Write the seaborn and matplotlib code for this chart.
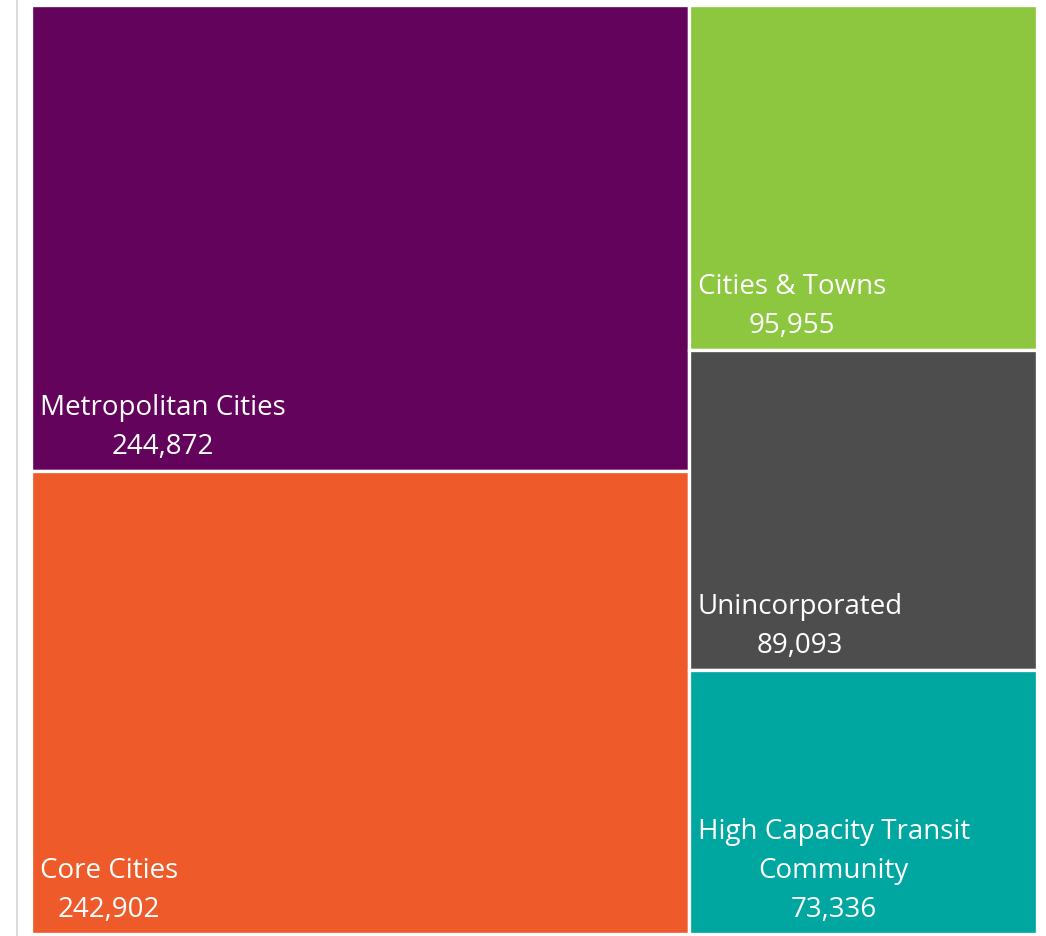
import matplotlib.pyplot as plt
import matplotlib.patches as mpatches
import matplotlib.lines as mlines
import seaborn as sns

# Data
categories = ['Metropolitan Cities', 'Core Cities', 'Cities & Towns',
              'Unincorporated', 'High Capacity Transit\nCommunity']
values = [244872, 242902, 95955, 89093, 73336]
colors = ['#63035c', '#ef5a2a', '#8dc63f', '#4d4d4d', '#00a6a0']


def worst(row, w):
    s = sum(row)
    return max(max(w * w * r / (s * s), s * s / (w * w * r)) for r in row)


def layout_row(row, x, y, dx, dy):
    # lays a row along the shorter side, returns rects and remaining space
    s = sum(row)
    rects = []
    if dx >= dy:
        width = s / dy
        yy = y
        for r in row:
            h = r / width
            rects.append((x, yy, width, h))
            yy += h
        return rects, (x + width, y, dx - width, dy)
    height = s / dx
    xx = x
    for r in row:
        w = r / height
        rects.append((xx, y, w, height))
        xx += w
    return rects, (x, y + height, dx, dy - height)


def squarify(sizes, x, y, dx, dy):
    total = sum(sizes)
    sizes = [v * dx * dy / total for v in sizes]
    rects = []
    while sizes:
        row = [sizes.pop(0)]
        side = min(dx, dy)
        while sizes and worst(row + [sizes[0]], side) <= worst(row, side):
            row.append(sizes.pop(0))
        r, (x, y, dx, dy) = layout_row(row, x, y, dx, dy)
        rects.extend(r)
    return rects


sns.set_theme(style="white")
plt.rcParams['font.family'] = ['Open Sans', 'DejaVu Sans']

fig = plt.figure(figsize=(10.46, 9.36), dpi=100)
ax = fig.add_axes([31 / 1046, 2 / 936, 1006 / 1046, 929 / 936])
W, H = 1006, 929
rects = squarify(values, 0, 0, W, H)

for (x, y, w, h), name, val, c in zip(rects, categories, values, colors):
    ax.add_patch(mpatches.Rectangle((x, y), w, h, facecolor=c,
                                    edgecolor='white', linewidth=2.4))
    ax.annotate(f'{name}\n{val:,}', xy=(x, y + h), xytext=(6.5, 12.5),
                textcoords='offset points', ha='left', va='baseline',
                multialignment='center', color='white', fontsize=20,
                linespacing=1.52)

ax.set_xlim(0, W)
ax.set_ylim(H, 0)
ax.axis('off')

# thin grey rule on the left
fig.add_artist(mlines.Line2D([16.5 / 1046, 16.5 / 1046], [0, 1],
                             color='#d6d6d6', linewidth=1.2))

fig.savefig('out.png', dpi=100)
